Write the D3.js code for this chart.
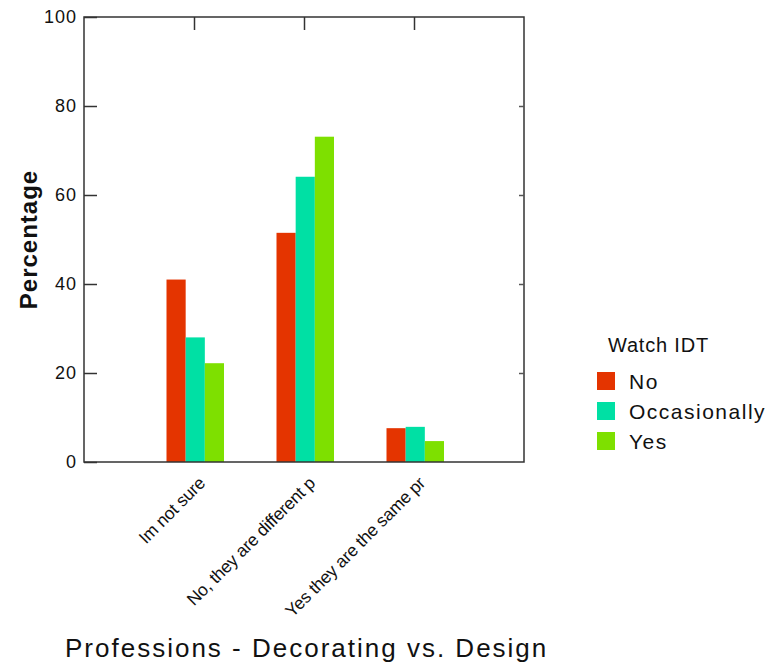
<!DOCTYPE html>
<html>
<head>
<meta charset="utf-8">
<script src="https://cdn.jsdelivr.net/npm/d3@7"></script>
<style>
  body { margin: 0; background: #fff; }
  text { font-family: Arial, "Liberation Sans", sans-serif; fill: #111; }
</style>
</head>
<body>
<svg id="chart" width="775" height="662"></svg>
<script>
const categories = ["Im not sure", "No, they are different p", "Yes they are the same pr"];
const seriesNames = ["No", "Occasionally", "Yes"];
const valuesNo = [41.0, 51.5, 7.6];
const valuesOccasionally = [28.0, 64.1, 7.9];
const valuesYes = [22.2, 73.1, 4.7];
const yTicks = [0, 20, 40, 60, 80, 100];
const colors = ["#e43400", "#00e0a4", "#7ee000"];
const legendTitle = "Watch IDT";
const xTitle = "Professions - Decorating vs. Design";
const yTitle = "Percentage";

const seriesValues = [valuesNo, valuesOccasionally, valuesYes];
const svg = d3.select("#chart");
const L = 84, R = 524, T = 17, B = 462;

const x = d3.scalePoint().domain(categories).range([L, R]).padding(1);
const sub = d3.scaleBand().domain(seriesNames).range([-27.5, 30]);
const y = d3.scaleLinear().domain([0, 100]).range([B, T]);

// bars
const rows = categories.map((c, i) => ({ c, vals: seriesNames.map((s, j) => ({ s, j, v: seriesValues[j][i] })) }));
const g = svg.append("g");
g.selectAll("g.grp").data(rows).join("g")
  .attr("transform", d => `translate(${x(d.c)},0)`)
  .selectAll("rect").data(d => d.vals).join("rect")
  .attr("x", d => sub(d.s))
  .attr("width", sub.bandwidth())
  .attr("y", d => y(d.v))
  .attr("height", d => y(0) - y(d.v))
  .attr("fill", d => colors[d.j]);

// frame
const axisCol = "#333";
svg.append("rect").attr("x", L).attr("y", T).attr("width", R - L).attr("height", B - T)
  .attr("fill", "none").attr("stroke", axisCol).attr("stroke-width", 1.5);

// left axis
const yAxis = d3.axisLeft(y).tickValues(yTicks).tickSizeInner(-13).tickSizeOuter(0).tickPadding(8);
const ya = svg.append("g").attr("transform", `translate(${L},0)`).call(yAxis);
ya.select(".domain").remove();
ya.selectAll(".tick line").attr("stroke", axisCol).attr("stroke-width", 1.5);
ya.selectAll(".tick text").attr("x", -7).attr("font-size", 18).attr("letter-spacing", 1)
  .style("font-family", "Arial, 'Liberation Sans', sans-serif").attr("fill", "#111");

// right axis ticks (short, inward)
const yr = svg.append("g").attr("transform", `translate(${R},0)`)
  .call(d3.axisRight(y).tickValues(yTicks.filter(t => t > 0 && t < 100)).tickSizeInner(-5).tickSizeOuter(0).tickFormat(""));
yr.select(".domain").remove();
yr.selectAll(".tick line").attr("stroke", "#555").attr("stroke-width", 1.5);

// top axis ticks
const xt = svg.append("g").attr("transform", `translate(0,${T})`)
  .call(d3.axisTop(x).tickSizeInner(-13).tickSizeOuter(0).tickFormat(""));
xt.select(".domain").remove();
xt.selectAll(".tick line").attr("stroke", axisCol).attr("stroke-width", 1.5);

// bottom category labels
svg.append("g").selectAll("text").data(categories).join("text")
  .attr("transform", d => `translate(${x(d) + 8},${B + 18}) rotate(-45)`)
  .attr("text-anchor", "end")
  .attr("dy", "0.35em")
  .attr("font-size", 17.5)
  .attr("letter-spacing", -0.2)
  .text(d => d);

// axis titles
svg.append("text")
  .attr("transform", `translate(37,${(T + B) / 2}) rotate(-90)`)
  .attr("text-anchor", "middle")
  .attr("font-size", 24).attr("font-weight", "bold").attr("letter-spacing", 1)
  .text(yTitle);

svg.append("text")
  .attr("x", 65).attr("y", 657)
  .attr("font-size", 26).attr("letter-spacing", 2)
  .text(xTitle);

// legend
const lg = svg.append("g").attr("transform", "translate(597,0)");
lg.append("text").attr("x", 11).attr("y", 352).attr("font-size", 20).attr("letter-spacing", 0.8).text(legendTitle);
const items = lg.selectAll("g.it").data(seriesNames).join("g")
  .attr("transform", (d, i) => `translate(0,${372 + i * 30})`);
items.append("rect").attr("width", 18).attr("height", 18).attr("fill", (d, i) => colors[i]);
items.append("text").attr("x", 32).attr("y", 17).attr("font-size", 21).attr("letter-spacing", 1.5).text(d => d);
</script>
</body>
</html>
